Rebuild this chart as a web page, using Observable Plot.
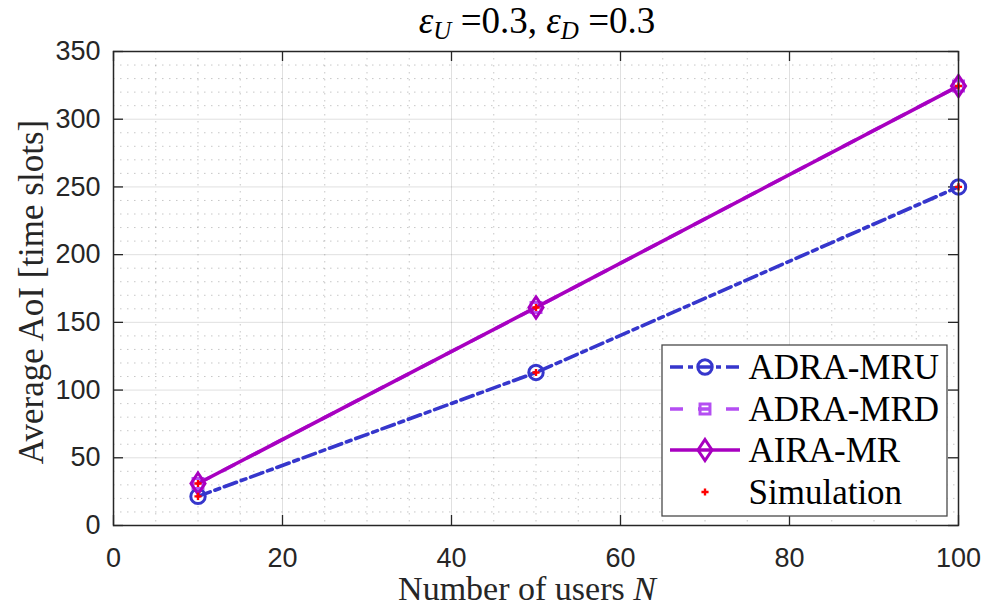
<!DOCTYPE html>
<html>
<head>
<meta charset="utf-8">
<script src="https://cdn.jsdelivr.net/npm/d3@7"></script>
<script src="https://cdn.jsdelivr.net/npm/@observablehq/plot@0.6"></script>
<style>
  html, body { margin: 0; padding: 0; background: #ffffff; }
  #chart svg { display: block; }
  #chart svg text.serif, #chart svg text.serif tspan { font-family: 'Liberation Serif', 'Times New Roman', serif; }
</style>
</head>
<body>
<div id="chart"></div>
<script>
// Number of users on the x axis
const users = [10, 50, 100];

// Average AoI [time slots] for each scheme
const adraMRU = [21.5, 113, 250];
const adraMRD = [31, 161, 324.5];
const airaMR = [31, 161, 324.5];

// Simulated points
const simulationMRU = [21.5, 113, 250];
const simulationMR = [31, 161, 324.5];

// Legend labels and tick values
const seriesNames = ["ADRA-MRU", "ADRA-MRD", "AIRA-MR", "Simulation"];
const xTicks = [0, 20, 40, 60, 80, 100];
const yTicks = [0, 50, 100, 150, 200, 250, 300, 350];
const xMinor = d3.range(0, 101, 5).filter(v => v % 20 !== 0);
const yMinor = d3.range(0, 351, 10).filter(v => v % 50 !== 0);

// Styling
const W = 984, H = 609;
const M = {top: 51, right: 26, bottom: 84, left: 113};
const frameH = H - M.top - M.bottom;
const frameW = W - M.left - M.right;
const axisColor = "#262626";
const serif = "Liberation Serif";
const sans = "Liberation Sans";

const colors = {mru: "#3636cc", mrd: "#b44ef2", mr: "#a800c0", sim: "#ff0000"};
const lineW = 3.6;
const markW = 3;
const dashMRU = "13,5,5,5";
const dashMRD = "13,15";

// Legend layout (pixels)
const legendBox = {x: 662, y: 345, w: 285, h: 171};
const legendRowY = [367, 409, 450, 492];
const legendSampleX = [670, 740];
const legendMarkerX = 705;
const legendTextX = 748;

// Diamond a little taller than wide
const tallDiamond = {
  draw(context, size) {
    const r = Math.sqrt(size / Math.PI);
    const h = r * 1.42, w = r * 0.95;
    context.moveTo(0, -h);
    context.lineTo(w, 0);
    context.lineTo(0, h);
    context.lineTo(-w, 0);
    context.closePath();
  }
};

const rows = (ys) => users.map((n, i) => ({n, v: ys[i]}));

// One text mark per legend row, offset from the frame's top-left corner
const legendLabelMarks = seriesNames.map((name, i) =>
  Plot.text([name], {
    text: d => d,
    frameAnchor: "top-left",
    dx: legendTextX - M.left,
    dy: legendRowY[i] - M.top,
    textAnchor: "start",
    lineAnchor: "middle",
    fontFamily: serif,
    fontSize: 35,
    fill: "#000",
    className: "legend-labels"
  })
);

const chart = Plot.plot({
  width: W,
  height: H,
  marginTop: M.top,
  marginRight: M.right,
  marginBottom: M.bottom,
  marginLeft: M.left,
  x: {domain: [0, 100]},
  y: {domain: [0, 350]},
  style: {fontFamily: sans, fontSize: "27px", color: axisColor, background: "#ffffff"},
  marks: [
    // minor grid (dotted)
    Plot.gridX(xMinor, {stroke: axisColor, strokeOpacity: 0.26, strokeDasharray: "1.5,5.5"}),
    Plot.gridY(yMinor, {stroke: axisColor, strokeOpacity: 0.26, strokeDasharray: "1.5,5.5"}),
    // major grid
    Plot.gridX(xTicks.slice(1, -1), {stroke: axisColor, strokeOpacity: 0.14, strokeWidth: 1}),
    Plot.gridY(yTicks.slice(1, -1), {stroke: axisColor, strokeOpacity: 0.14, strokeWidth: 1}),
    // tick labels
    Plot.axisX(xTicks, {tickSize: 0, tickPadding: 22, label: null, fontSize: 27}),
    Plot.axisY(yTicks, {tickSize: 0, tickPadding: 13, label: null, fontSize: 27}),
    // inward tick marks on all four sides
    Plot.tickX(xTicks, {stroke: axisColor, strokeWidth: 1.3, insetTop: frameH - 10}),
    Plot.tickX(xTicks, {stroke: axisColor, strokeWidth: 1.3, insetBottom: frameH - 10}),
    Plot.tickY(yTicks, {stroke: axisColor, strokeWidth: 1.3, insetRight: frameW - 10}),
    Plot.tickY(yTicks, {stroke: axisColor, strokeWidth: 1.3, insetLeft: frameW - 10}),
    // ADRA-MRU
    Plot.line(rows(adraMRU), {x: "n", y: "v", stroke: colors.mru, strokeWidth: lineW, strokeDasharray: dashMRU}),
    Plot.dot(rows(adraMRU), {x: "n", y: "v", r: 7.2, symbol: "circle", stroke: colors.mru, strokeWidth: markW, fill: "none"}),
    // ADRA-MRD
    Plot.line(rows(adraMRD), {x: "n", y: "v", stroke: colors.mrd, strokeWidth: lineW, strokeDasharray: dashMRD}),
    Plot.dot(rows(adraMRD), {x: "n", y: "v", r: 5.6, symbol: "square", stroke: colors.mrd, strokeWidth: markW, fill: "none"}),
    // AIRA-MR
    Plot.line(rows(airaMR), {x: "n", y: "v", stroke: colors.mr, strokeWidth: lineW}),
    Plot.dot(rows(airaMR), {x: "n", y: "v", r: 7.4, symbol: tallDiamond, stroke: colors.mr, strokeWidth: markW, fill: "none"}),
    // Simulation
    Plot.dot(rows(simulationMRU), {x: "n", y: "v", r: 3, symbol: "cross", fill: colors.sim, stroke: "none"}),
    Plot.dot(rows(simulationMR), {x: "n", y: "v", r: 3, symbol: "cross", fill: colors.sim, stroke: "none"}),
    Plot.frame({stroke: axisColor, strokeWidth: 1.5}),
    ...legendLabelMarks
  ]
});

document.getElementById("chart").appendChild(chart);

const svg = d3.select(chart);

// Serif text helper
function serifText(parent, size, fill) {
  return parent.append("text")
    .attr("class", "serif")
    .attr("font-family", serif)
    .style("font-family", serif)
    .style("font-size", size + "px")
    .attr("fill", fill);
}

// Title with subscripts
const title = serifText(svg, 37, "#000")
  .attr("x", 537).attr("y", 33)
  .attr("text-anchor", "middle");
title.append("tspan").style("font-style", "italic").text("ε");
title.append("tspan").style("font-style", "italic").style("font-size", "25px").attr("dy", 6).text("U");
title.append("tspan").attr("dy", -6).text(" =0.3, ");
title.append("tspan").style("font-style", "italic").text("ε");
title.append("tspan").style("font-style", "italic").style("font-size", "25px").attr("dy", 6).text("D");
title.append("tspan").attr("dy", -6).text(" =0.3");

// Axis titles
const xLabel = serifText(svg, 34, "#262626")
  .attr("x", 527).attr("y", 600)
  .attr("text-anchor", "middle");
xLabel.append("tspan").text("Number of users ");
xLabel.append("tspan").style("font-style", "italic").text("N");

serifText(svg, 35, "#262626")
  .attr("transform", "translate(43,292) rotate(-90)")
  .attr("text-anchor", "middle")
  .text("Average AoI [time slots]");

// Legend box and samples
const legend = svg.append("g");
legend.append("rect")
  .attr("x", legendBox.x).attr("y", legendBox.y)
  .attr("width", legendBox.w).attr("height", legendBox.h)
  .attr("fill", "#ffffff").attr("stroke", "#4a4a4a").attr("stroke-width", 1.3);

const entries = [
  {color: colors.mru, dash: dashMRU, line: true, symbol: d3.symbolCircle, r: 7.2},
  {color: colors.mrd, dash: dashMRD, line: true, symbol: d3.symbolSquare, r: 5.6},
  {color: colors.mr, dash: null, line: true, symbol: tallDiamond, r: 7.4},
  {color: colors.sim, dash: null, line: false, symbol: d3.symbolCross, r: 3}
];
entries.forEach((e, i) => {
  const y = legendRowY[i];
  if (e.line) {
    legend.append("line")
      .attr("x1", legendSampleX[0]).attr("x2", legendSampleX[1]).attr("y1", y).attr("y2", y)
      .attr("stroke", e.color).attr("stroke-width", lineW)
      .attr("stroke-dasharray", e.dash);
  }
  const path = d3.symbol(e.symbol, e.r * e.r * Math.PI)();
  const p = legend.append("path").attr("d", path).attr("transform", `translate(${legendMarkerX},${y})`);
  if (e.line) p.attr("fill", "none").attr("stroke", e.color).attr("stroke-width", markW);
  else p.attr("fill", e.color);
});

// Legend labels drawn above the legend box
svg.selectAll("g.legend-labels").raise();
</script>
</body>
</html>
